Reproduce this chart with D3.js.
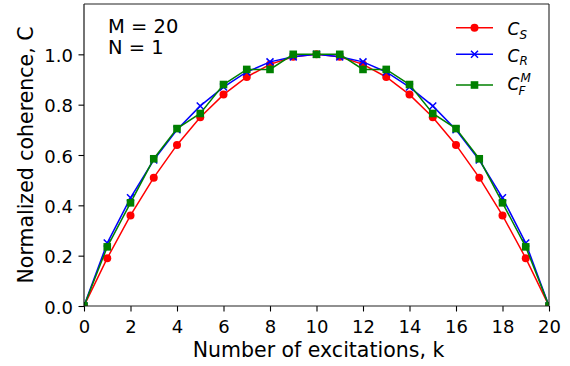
<!DOCTYPE html>
<html>
<head>
<meta charset="utf-8">
<script src="https://cdn.jsdelivr.net/npm/d3@7"></script>
<style>
  html, body { margin: 0; padding: 0; background: #fff; }
  svg { display: block; font-family: "DejaVu Sans", sans-serif; }
</style>
</head>
<body>
<svg id="chart" width="570" height="366"></svg>
<script>
// ---- data ----
const excitations = [0,1,2,3,4,5,6,7,8,9,10,11,12,13,14,15,16,17,18,19,20];
const coherenceS = [0,0.19,0.36,0.51,0.64,0.75,0.84,0.91,0.96,0.99,1.0,0.99,0.96,0.91,0.84,0.75,0.64,0.51,0.36,0.19,0];
const coherenceR = [0,0.25,0.43,0.58,0.70,0.795,0.87,0.93,0.97,0.99,1.0,0.99,0.97,0.93,0.87,0.795,0.70,0.58,0.43,0.25,0];
const coherenceFM = [0,0.235,0.41,0.585,0.705,0.765,0.88,0.94,0.94,1.0,1.0,1.0,0.94,0.94,0.88,0.765,0.705,0.585,0.41,0.235,0];
const xTicks = [0,2,4,6,8,10,12,14,16,18,20];
const yTicks = [0,0.2,0.4,0.6,0.8,1.0];
const legendBase = ["C","C","C"];
const legendSub = ["S","R","F"];
const legendSup = ["","","M"];
const annotations = ["M = 20","N = 1"];
const xLabel = "Number of excitations, k";
const yLabel = "Normalized coherence, C";

// ---- layout ----
const L = 84, R = 549, T = 4, B = 306;
const svg = d3.select("#chart");
const x = d3.scaleLinear().domain([0,20]).range([L,R]);
const y = d3.scaleLinear().domain([0,1.2]).range([B,T]);

svg.append("defs").append("clipPath").attr("id","clip")
  .append("rect").attr("x",L).attr("y",T).attr("width",R-L).attr("height",B-T);

// axes
const xAxis = svg.append("g").attr("transform",`translate(0,${B})`)
  .call(d3.axisBottom(x).tickValues(xTicks).tickFormat(d3.format("d")).tickSize(5.5).tickSizeOuter(0));
xAxis.select(".domain").remove();
xAxis.selectAll("text").attr("y",26.7).attr("dy",0).attr("font-size",18).attr("font-family","DejaVu Sans").attr("fill","#000");
xAxis.selectAll("line").attr("stroke","#000").attr("stroke-width",1.1);

const yAxis = svg.append("g").attr("transform",`translate(${L},0)`)
  .call(d3.axisLeft(y).tickValues(yTicks).tickFormat(d3.format(".1f")).tickSize(5.5).tickSizeOuter(0));
yAxis.select(".domain").remove();
yAxis.selectAll("text").attr("x",-11).attr("dy","0.40em").attr("font-size",18).attr("font-family","DejaVu Sans").attr("fill","#000");
yAxis.selectAll("line").attr("stroke","#000").attr("stroke-width",1.1);

// series
const series = [
  {vals: coherenceS, color: "#ff0000", marker: "circle"},
  {vals: coherenceR, color: "#0000ff", marker: "x"},
  {vals: coherenceFM, color: "#008000", marker: "square"}
];
const plot = svg.append("g").attr("clip-path","url(#clip)");
const line = d3.line().x((d,i)=>x(excitations[i])).y(d=>y(d));

function drawMarker(g, type, cx, cy, color) {
  if (type === "circle") {
    g.append("circle").attr("cx",cx).attr("cy",cy).attr("r",4).attr("fill",color);
  } else if (type === "x") {
    const s = 3.5;
    g.append("path").attr("d",`M${cx-s},${cy-s}L${cx+s},${cy+s}M${cx-s},${cy+s}L${cx+s},${cy-s}`)
      .attr("stroke",color).attr("stroke-width",1.5).attr("fill","none");
  } else {
    const s = 3.8;
    g.append("rect").attr("x",cx-s).attr("y",cy-s).attr("width",2*s).attr("height",2*s).attr("fill",color);
  }
}

series.forEach(s => {
  plot.append("path").datum(s.vals).attr("d",line)
    .attr("fill","none").attr("stroke",s.color).attr("stroke-width",1.5);
  s.vals.forEach((v,i) => drawMarker(plot, s.marker, x(excitations[i]), y(v), s.color));
});

// spines
svg.append("line").attr("x1",L).attr("x2",L).attr("y1",T).attr("y2",B).attr("stroke","#000").attr("stroke-width",1.1);
svg.append("line").attr("x1",L).attr("x2",R).attr("y1",B).attr("y2",B).attr("stroke","#222").attr("stroke-width",1.1);
svg.append("line").attr("x1",L).attr("x2",R).attr("y1",T).attr("y2",T).attr("stroke","#222").attr("stroke-width",1.1);
svg.append("line").attr("x1",R).attr("x2",R).attr("y1",T).attr("y2",B).attr("stroke","#222").attr("stroke-width",1.1);

// annotations
svg.append("text").attr("x",108).attr("y",33.3).attr("font-size",19.5).text(annotations[0]);
svg.append("text").attr("x",108).attr("y",54.3).attr("font-size",19.5).text(annotations[1]);

// axis labels
svg.append("text").attr("x",(L+R)/2 + 2).attr("y",356.5).attr("text-anchor","middle")
  .attr("font-size",20.5).text(xLabel);
svg.append("text").attr("transform","rotate(-90)").attr("x",-155).attr("y",33)
  .attr("text-anchor","middle").attr("font-size",20.5).text(yLabel);

// legend
const rowY = [27.7, 54.3, 85];
const baseY = [35, 61.7, 90];
const lg = svg.append("g");
series.forEach((s,i) => {
  lg.append("line").attr("x1",456).attr("x2",493).attr("y1",rowY[i]).attr("y2",rowY[i])
    .attr("stroke",s.color).attr("stroke-width",1.5);
  drawMarker(lg, s.marker, 474.5, rowY[i], s.color);
  lg.append("text").attr("x",507.5).attr("y",baseY[i]).attr("font-size",17)
    .attr("font-style","italic").text(legendBase[i]);
  lg.append("text").attr("x", legendSup[i] ? 518.5 : 519.5).attr("y", baseY[i] + (legendSup[i] ? 4.5 : 3.5))
    .attr("font-size",12).attr("font-style","italic").text(legendSub[i]);
  if (legendSup[i]) {
    lg.append("text").attr("x",520.5).attr("y",baseY[i]-8.5)
      .attr("font-size",12).attr("font-style","italic").text(legendSup[i]);
  }
});
</script>
</body>
</html>
